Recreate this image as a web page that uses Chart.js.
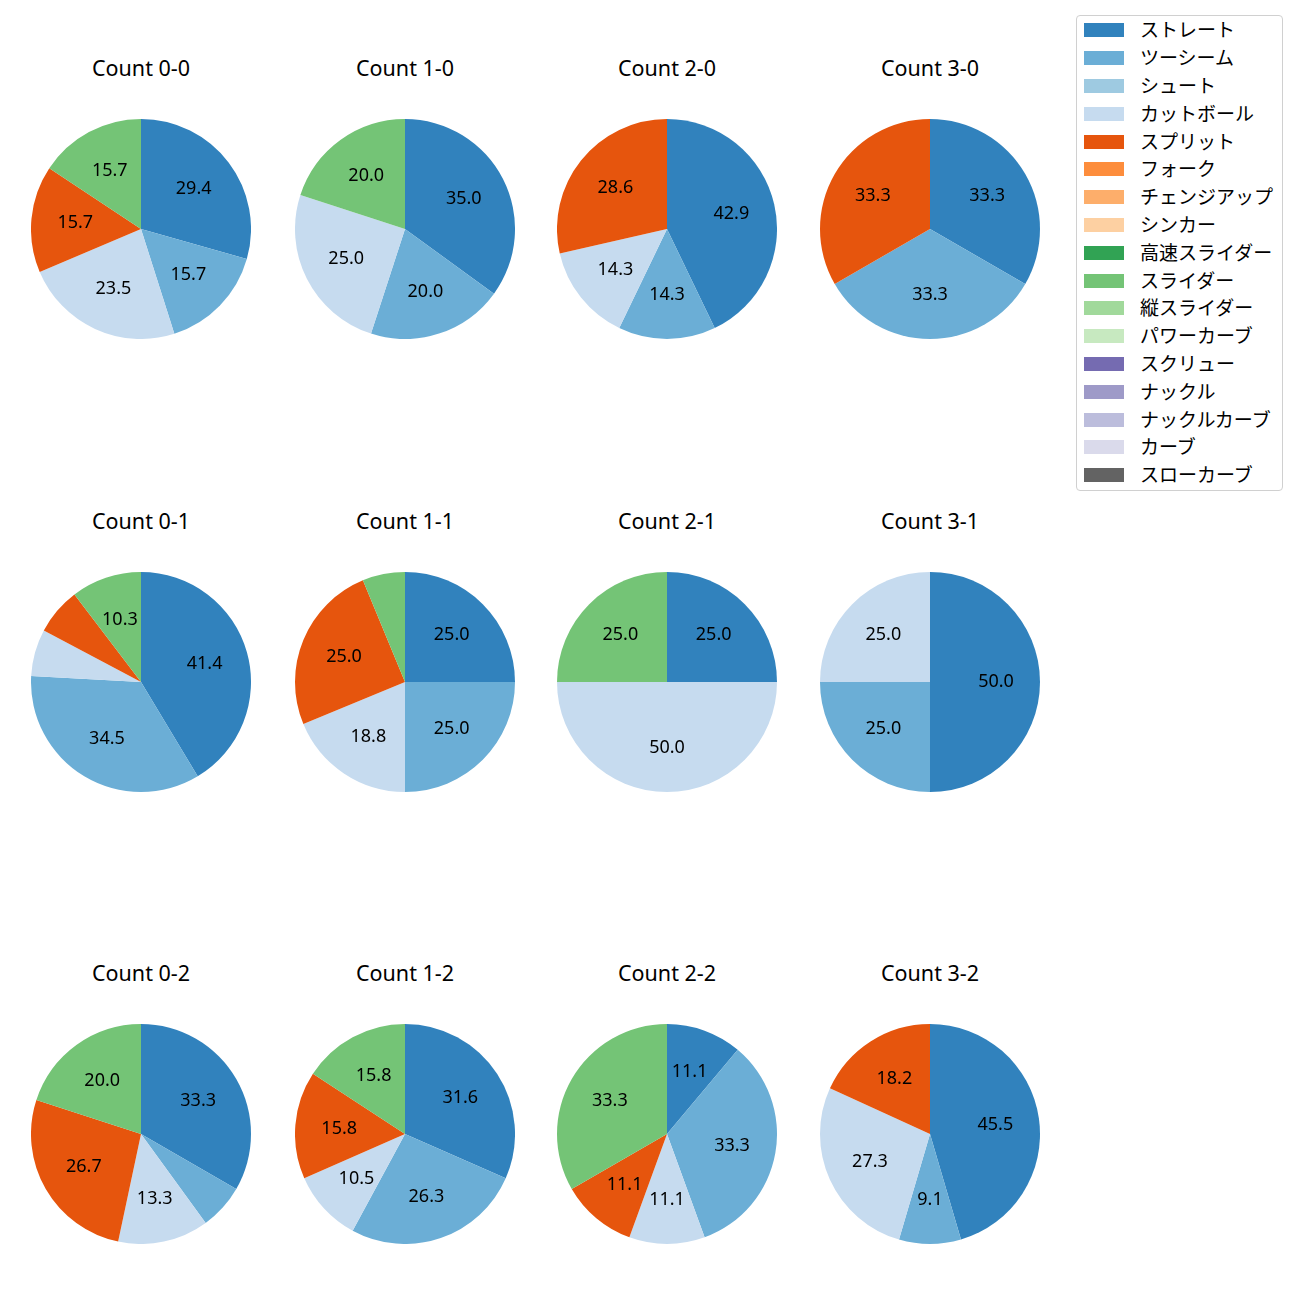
<!DOCTYPE html>
<html>
<head>
<meta charset="utf-8">
<script src="https://cdn.jsdelivr.net/npm/chart.js@4.4.0/dist/chart.umd.min.js"></script>
<style>
  html, body { margin: 0; padding: 0; background: #fff; }
  #stage { position: relative; width: 1300px; height: 1300px; font-family: "Noto Sans CJK JP", "Noto Sans", sans-serif; }
  .pie { position: absolute; }
  .ttl { position: absolute; width: 240px; text-align: center; font-family: "Noto Sans", sans-serif;
    font-size: 21.5px; color: #000; line-height: 1; }
  #legend { position: absolute; left: 1076px; top: 15px; width: 207px; height: 476px;
    border: 1px solid #d0d0d0; border-radius: 4px; background: #fff; box-sizing: border-box; }
  .lg-sw { position: absolute; left: 7px; width: 40px; height: 14px; }
  .lg-tx { position: absolute; left: 63px; font-size: 19px; white-space: nowrap; color: #000; line-height: 1; }
</style>
</head>
<body>
<div id="stage"></div>
<script>
/* pitch types and tab20c colours, legend order */
const pitchTypes = ['ストレート', 'ツーシーム', 'シュート', 'カットボール', 'スプリット', 'フォーク',
  'チェンジアップ', 'シンカー', '高速スライダー', 'スライダー', '縦スライダー', 'パワーカーブ',
  'スクリュー', 'ナックル', 'ナックルカーブ', 'カーブ', 'スローカーブ'];
const pitchColors = ['#3182bd', '#6baed6', '#9ecae1', '#c6dbef', '#e6550d', '#fd8d3c',
  '#fdae6b', '#fdd0a2', '#31a354', '#74c476', '#a1d99b', '#c7e9c0',
  '#756bb1', '#9e9ac8', '#bcbddc', '#dadaeb', '#636363'];

const countLabels = ['0-0', '1-0', '2-0', '3-0', '0-1', '1-1', '2-1', '3-1', '0-2', '1-2', '2-2', '3-2'];

// pitch counts per ball-strike count (order = pitchTypes)
//                 Str Two Sht Cut Spl For Chg Snk HSl Sld VSl PCv Scr Knk KCv Crv SCv
const count00 = [15,  8,  0, 12,  8,  0,  0,  0,  0,  8,  0,  0,  0,  0,  0,  0,  0];
const count10 = [ 7,  4,  0,  5,  0,  0,  0,  0,  0,  4,  0,  0,  0,  0,  0,  0,  0];
const count20 = [ 3,  1,  0,  1,  2,  0,  0,  0,  0,  0,  0,  0,  0,  0,  0,  0,  0];
const count30 = [ 1,  1,  0,  0,  1,  0,  0,  0,  0,  0,  0,  0,  0,  0,  0,  0,  0];
const count01 = [12, 10,  0,  2,  2,  0,  0,  0,  0,  3,  0,  0,  0,  0,  0,  0,  0];
const count11 = [ 4,  4,  0,  3,  4,  0,  0,  0,  0,  1,  0,  0,  0,  0,  0,  0,  0];
const count21 = [ 1,  0,  0,  2,  0,  0,  0,  0,  0,  1,  0,  0,  0,  0,  0,  0,  0];
const count31 = [ 2,  1,  0,  1,  0,  0,  0,  0,  0,  0,  0,  0,  0,  0,  0,  0,  0];
const count02 = [ 5,  1,  0,  2,  4,  0,  0,  0,  0,  3,  0,  0,  0,  0,  0,  0,  0];
const count12 = [ 6,  5,  0,  2,  3,  0,  0,  0,  0,  3,  0,  0,  0,  0,  0,  0,  0];
const count22 = [ 1,  3,  0,  1,  1,  0,  0,  0,  0,  3,  0,  0,  0,  0,  0,  0,  0];
const count32 = [ 5,  1,  0,  3,  2,  0,  0,  0,  0,  0,  0,  0,  0,  0,  0,  0,  0];

const countData = [count00, count10, count20, count30, count01, count11, count21, count31,
  count02, count12, count22, count32];

// subplot grid (pie centres)
const COL_X = [141, 405, 667, 930];
const ROW_Y = [229, 682, 1134];
const RADIUS = 110;
const TITLE_GAP = 160;

const stage = document.getElementById('stage');

// percent labels at 0.6 r, hidden for small slices
const pctLabels = {
  id: 'pctLabels',
  afterDatasetsDraw(chart) {
    const ctx = chart.ctx;
    const data = chart.data.datasets[0].data;
    const total = data.reduce((a, b) => a + b, 0);
    const meta = chart.getDatasetMeta(0);
    ctx.save();
    ctx.font = '18px "Noto Sans", sans-serif';
    ctx.fillStyle = '#000';
    ctx.textAlign = 'center';
    ctx.textBaseline = 'middle';
    meta.data.forEach((arc, i) => {
      const pct = data[i] / total * 100;
      if (!data[i] || pct < 7) return;
      const p = arc.getProps(['x', 'y', 'startAngle', 'endAngle', 'outerRadius'], true);
      const mid = (p.startAngle + p.endAngle) / 2;
      const r = p.outerRadius * 0.6;
      ctx.fillText(pct.toFixed(1), p.x + Math.cos(mid) * r, p.y + Math.sin(mid) * r);
    });
    ctx.restore();
  }
};

countLabels.forEach((lbl, k) => {
  const cx = COL_X[k % 4];
  const cy = ROW_Y[Math.floor(k / 4)];

  const title = document.createElement('div');
  title.className = 'ttl';
  title.textContent = 'Count ' + lbl;
  title.style.left = (cx - 120) + 'px';
  title.style.top = (cy - TITLE_GAP - 12) + 'px';
  stage.appendChild(title);

  const canvas = document.createElement('canvas');
  canvas.className = 'pie';
  canvas.width = RADIUS * 2;
  canvas.height = RADIUS * 2;
  canvas.style.left = (cx - RADIUS) + 'px';
  canvas.style.top = (cy - RADIUS) + 'px';
  stage.appendChild(canvas);

  new Chart(canvas.getContext('2d'), {
    type: 'pie',
    data: {
      labels: pitchTypes,
      datasets: [{
        data: countData[k],
        backgroundColor: pitchColors,
        borderWidth: 0,
        hoverOffset: 0,
        offset: 0
      }]
    },
    options: {
      responsive: false,
      animation: false,
      events: [],
      layout: { padding: 0 },
      plugins: { legend: { display: false }, tooltip: { enabled: false } }
    },
    plugins: [pctLabels]
  });
});

// legend
const legend = document.createElement('div');
legend.id = 'legend';
stage.appendChild(legend);
pitchTypes.forEach((name, i) => {
  const yc = 29.3 + i * 27.8 - 15;
  const sw = document.createElement('div');
  sw.className = 'lg-sw';
  sw.style.background = pitchColors[i];
  sw.style.top = (yc - 7) + 'px';
  legend.appendChild(sw);
  const tx = document.createElement('div');
  tx.className = 'lg-tx';
  tx.textContent = name;
  tx.style.top = (yc - 11) + 'px';
  legend.appendChild(tx);
});
</script>
</body>
</html>
